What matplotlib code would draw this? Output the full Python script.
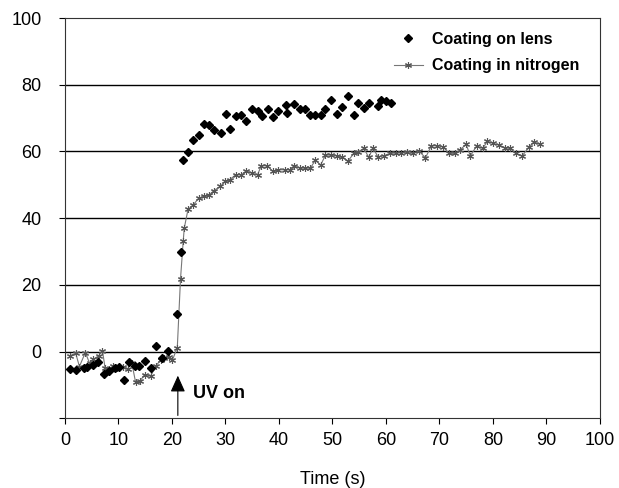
import matplotlib
matplotlib.use("Agg")
import matplotlib.pyplot as plt

plt.rcParams['font.family'] = ['Liberation Sans Narrow', 'Liberation Sans', 'DejaVu Sans']

# coating on lens (black diamonds)
lens_t = [0.9, 2.0, 3.5, 4.2, 5.3, 6.2, 7.2, 8.3, 9.4, 10.1, 11.1, 12.0, 13.1, 13.8,
          14.9, 16.0, 17.1, 18.1, 19.2, 21.0, 21.6, 22.0, 23.0, 24.0, 25.0, 26.0, 27.0,
          27.8, 29.1, 30.1, 30.8, 31.9, 32.9, 33.9, 34.9, 36.0, 36.9, 38.0, 38.9, 39.9,
          41.4, 41.5, 42.8, 44.0, 44.8, 45.8, 46.8, 47.8, 48.7, 49.7, 50.9, 51.8, 52.9,
          54.0, 54.8, 55.9, 56.9, 58.5, 59.0, 60.0, 60.9]
lens_v = [-5.2, -5.4, -4.8, -4.5, -4.1, -3.0, -6.8, -5.9, -5.0, -4.5, -8.4, -3.2, -4.3, -4.2,
          -2.7, -5.0, 1.7, -2.0, 0.2, 11.4, 29.7, 57.3, 59.7, 63.3, 65.0, 68.1, 68.0,
          66.5, 65.5, 71.1, 66.8, 70.7, 71.0, 69.0, 72.6, 72.1, 70.5, 72.6, 70.4, 72.1,
          73.8, 71.5, 74.3, 72.8, 72.8, 70.8, 70.8, 70.8, 72.8, 75.3, 71.3, 73.3, 76.5,
          70.8, 74.5, 73.1, 74.5, 73.5, 75.4, 75.0, 74.5]

# coating in nitrogen (grey stars + line)
n2_t = [0.9, 2.0, 2.7, 3.8, 4.6, 5.3, 6.3, 7.0, 7.5, 8.3, 9.0, 9.7, 10.9, 11.7, 12.5,
        13.2, 14.0, 14.9, 16.0, 17.0, 17.9, 18.6, 19.4, 20.1, 21.0, 21.6, 22.1, 22.3,
        23.0, 24.0, 25.0, 26.0, 27.0, 27.8, 29.0, 30.0, 30.8, 31.9, 33.0, 33.9, 34.9,
        36.0, 36.7, 37.8, 38.9, 39.9, 41.1, 42.1, 42.8, 44.0, 44.8, 45.9, 46.8, 47.8,
        48.7, 49.7, 50.9, 51.8, 52.9, 54.0, 54.8, 55.9, 56.8, 57.6, 58.5, 59.6, 60.7,
        61.8, 62.9, 64.0, 65.1, 66.2, 67.4, 68.5, 69.6, 70.7, 71.8, 72.9, 73.8, 75.0,
        75.8, 77.0, 78.1, 79.0, 80.1, 81.2, 82.3, 83.2, 84.3, 85.5, 86.8, 87.7, 88.8]
n2_v = [-1.3, -0.5, -4.5, -0.3, -3.5, -2.3, -1.3, 0.3, -5.0, -5.2, -4.3, -5.0, -4.6, -5.2, -3.5,
        -9.2, -8.9, -6.9, -7.4, -4.3, -2.5, -2.0, -1.5, -2.5, 1.2, 21.8, 33.0, 37.0,
        42.6, 44.0, 46.0, 46.5, 47.0, 48.2, 49.5, 51.0, 51.5, 53.0, 53.0, 54.2, 53.5,
        53.0, 55.7, 55.7, 54.0, 54.5, 54.5, 54.5, 55.7, 55.0, 55.0, 55.0, 57.4, 55.9,
        58.9, 58.9, 58.7, 58.4, 57.1, 59.4, 59.9, 60.9, 58.2, 61.1, 58.4, 58.7, 59.4,
        59.5, 59.6, 59.7, 59.4, 60.1, 58.1, 61.7, 61.7, 61.4, 59.4, 59.4, 60.4, 62.1,
        58.7, 61.7, 60.9, 63.1, 62.4, 61.9, 61.1, 60.9, 59.4, 58.7, 61.4, 62.9, 62.1]

fig = plt.figure(figsize=(6.19, 4.88), dpi=100)
ax = fig.add_axes([0.105, 0.143, 0.864, 0.820])

ax.plot(n2_t, n2_v, color='#777777', linewidth=0.8, marker=(6, 2, 0), markersize=5,
        markeredgecolor='#555555', markeredgewidth=0.8, label='Coating in nitrogen', zorder=3)
ax.plot(lens_t, lens_v, linestyle='none', marker='D', markersize=3.8, color='black',
        label='Coating on lens', zorder=4)

ax.set_xlim(0, 100)
ax.set_ylim(-20, 100)
ax.set_xticks(range(0, 101, 10))
ax.set_yticks(range(-20, 101, 20))
ax.set_yticklabels([''] + [str(v) for v in range(0, 101, 20)])
for yv in range(0, 81, 20):
    ax.axhline(yv, color='black', linewidth=1.0, zorder=1)
ax.tick_params(labelsize=13, length=4, width=0.8, direction='out')
ax.tick_params(axis='y', pad=13)
ax.tick_params(axis='x', pad=6)
for s in ax.spines.values():
    s.set_linewidth(0.8)
    s.set_color('#333333')

ax.set_xlabel('Time (s)', fontsize=13, labelpad=16)

ax.annotate('', xy=(21.1, -6.4), xytext=(21.1, -20),
            arrowprops=dict(arrowstyle='-|>,head_width=0.45,head_length=1.0',
                            mutation_scale=10, color='black', linewidth=0.8))
ax.text(24, -12.7, 'UV on', fontsize=13, fontweight='bold', va='center', ha='left')

h, l = ax.get_legend_handles_labels()
ax.legend(h[::-1], l[::-1], loc='upper left', frameon=False,
          prop={'weight': 'bold', 'size': 11.5}, bbox_to_anchor=(0.6, 0.985),
          borderpad=0, handlelength=1.8, handletextpad=0.6, labelspacing=0.7)

fig.savefig('out.png', dpi=100)
